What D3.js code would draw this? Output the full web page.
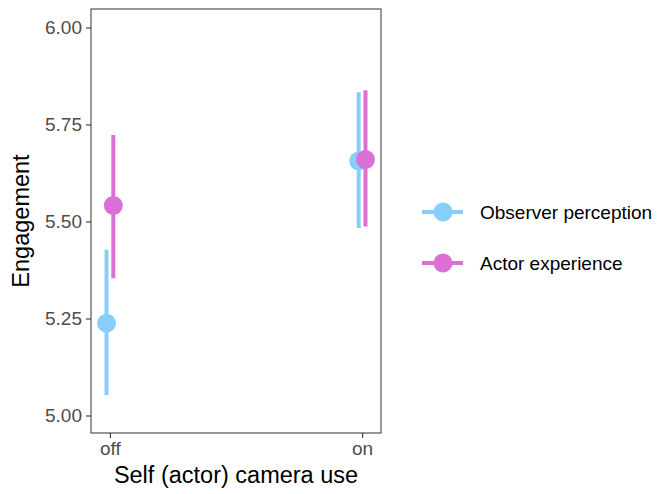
<!DOCTYPE html>
<html>
<head>
<meta charset="utf-8">
<script src="https://cdn.jsdelivr.net/npm/d3@7"></script>
<style>
  body { margin: 0; background: #fff; }
  text { font-family: "Liberation Sans", Arial, sans-serif; }
</style>
</head>
<body>
<div id="chart"></div>
<script>
// categories and series
const conditions = ['off', 'on'];
const seriesNames = ['Observer perception', 'Actor experience'];
const seriesColors = ['#87CEFA', '#DA70D6'];

// means and interval bounds, one array per series, ordered as conditions
const observerMean = [5.238, 5.656];
const observerLow = [5.053, 5.483];
const observerHigh = [5.427, 5.833];
const actorMean = [5.541, 5.660];
const actorLow = [5.354, 5.487];
const actorHigh = [5.723, 5.838];

const yTicks = [5.00, 5.25, 5.50, 5.75, 6.00];

const series = [
  { name: seriesNames[0], color: seriesColors[0], mean: observerMean, low: observerLow, high: observerHigh, dodge: -1 },
  { name: seriesNames[1], color: seriesColors[1], mean: actorMean, low: actorLow, high: actorHigh, dodge: 1 }
];

const width = 666;
const height = 494;
const panel = { left: 91, right: 381, top: 9, bottom: 433 };

const svg = d3.select('#chart')
  .append('svg')
  .attr('width', width)
  .attr('height', height);

const x = d3.scalePoint()
  .domain(conditions)
  .range([panel.left, panel.right])
  .padding(0.075);

const y = d3.scaleLinear()
  .domain([5, 6])
  .range([415.5, 27.5]);

const dodgePx = 3.4;

// panel border
svg.append('rect')
  .attr('x', panel.left)
  .attr('y', panel.top)
  .attr('width', panel.right - panel.left)
  .attr('height', panel.bottom - panel.top)
  .attr('fill', 'none')
  .attr('stroke', '#444')
  .attr('stroke-width', 1.1);

// y axis
const yAxis = svg.append('g')
  .attr('transform', `translate(${panel.left},0)`)
  .call(d3.axisLeft(y).tickValues(yTicks).tickFormat(d3.format('.2f')).tickSize(5).tickPadding(4));
yAxis.select('.domain').remove();
yAxis.selectAll('.tick line').attr('stroke', '#333').attr('stroke-width', 1.1);
yAxis.selectAll('.tick text')
  .attr('fill', '#4d4d4d')
  .attr('font-size', '19px')
  .attr('font-family', '"Liberation Sans", Arial, sans-serif');

// x axis
const xAxis = svg.append('g')
  .attr('transform', `translate(0,${panel.bottom})`)
  .call(d3.axisBottom(x).tickSize(5).tickPadding(4));
xAxis.select('.domain').remove();
xAxis.selectAll('.tick line').attr('stroke', '#333').attr('stroke-width', 1.1);
xAxis.selectAll('.tick text')
  .attr('fill', '#4d4d4d')
  .attr('font-size', '19px')
  .attr('font-family', '"Liberation Sans", Arial, sans-serif');

// axis titles
svg.append('text')
  .attr('x', (panel.left + panel.right) / 2)
  .attr('y', 483)
  .attr('text-anchor', 'middle')
  .attr('font-size', '23.5px')
  .attr('fill', '#000')
  .text('Self (actor) camera use');

svg.append('text')
  .attr('transform', `translate(29,${(panel.top + panel.bottom) / 2}) rotate(-90)`)
  .attr('text-anchor', 'middle')
  .attr('font-size', '23.5px')
  .attr('fill', '#000')
  .text('Engagement');

// intervals and points
series.forEach((s) => {
  const g = svg.append('g');
  g.selectAll('line')
    .data(conditions)
    .enter()
    .append('line')
    .attr('x1', (d) => x(d) + s.dodge * dodgePx)
    .attr('x2', (d) => x(d) + s.dodge * dodgePx)
    .attr('y1', (d, i) => y(s.low[i]))
    .attr('y2', (d, i) => y(s.high[i]))
    .attr('stroke', s.color)
    .attr('stroke-width', 4);
  g.selectAll('circle')
    .data(conditions)
    .enter()
    .append('circle')
    .attr('cx', (d) => x(d) + s.dodge * dodgePx)
    .attr('cy', (d, i) => y(s.mean[i]))
    .attr('r', 9.5)
    .attr('fill', s.color);
});

// legend
const legend = svg.append('g');
series.forEach((s, i) => {
  const ly = 212 + i * 51;
  legend.append('line')
    .attr('x1', 422)
    .attr('x2', 463)
    .attr('y1', ly)
    .attr('y2', ly)
    .attr('stroke', s.color)
    .attr('stroke-width', 4);
  legend.append('circle')
    .attr('cx', 443)
    .attr('cy', ly)
    .attr('r', 9.5)
    .attr('fill', s.color);
  legend.append('text')
    .attr('x', 480)
    .attr('y', ly)
    .attr('dy', '0.35em')
    .attr('font-size', '19px')
    .attr('fill', '#000')
    .text(s.name);
});
</script>
</body>
</html>
